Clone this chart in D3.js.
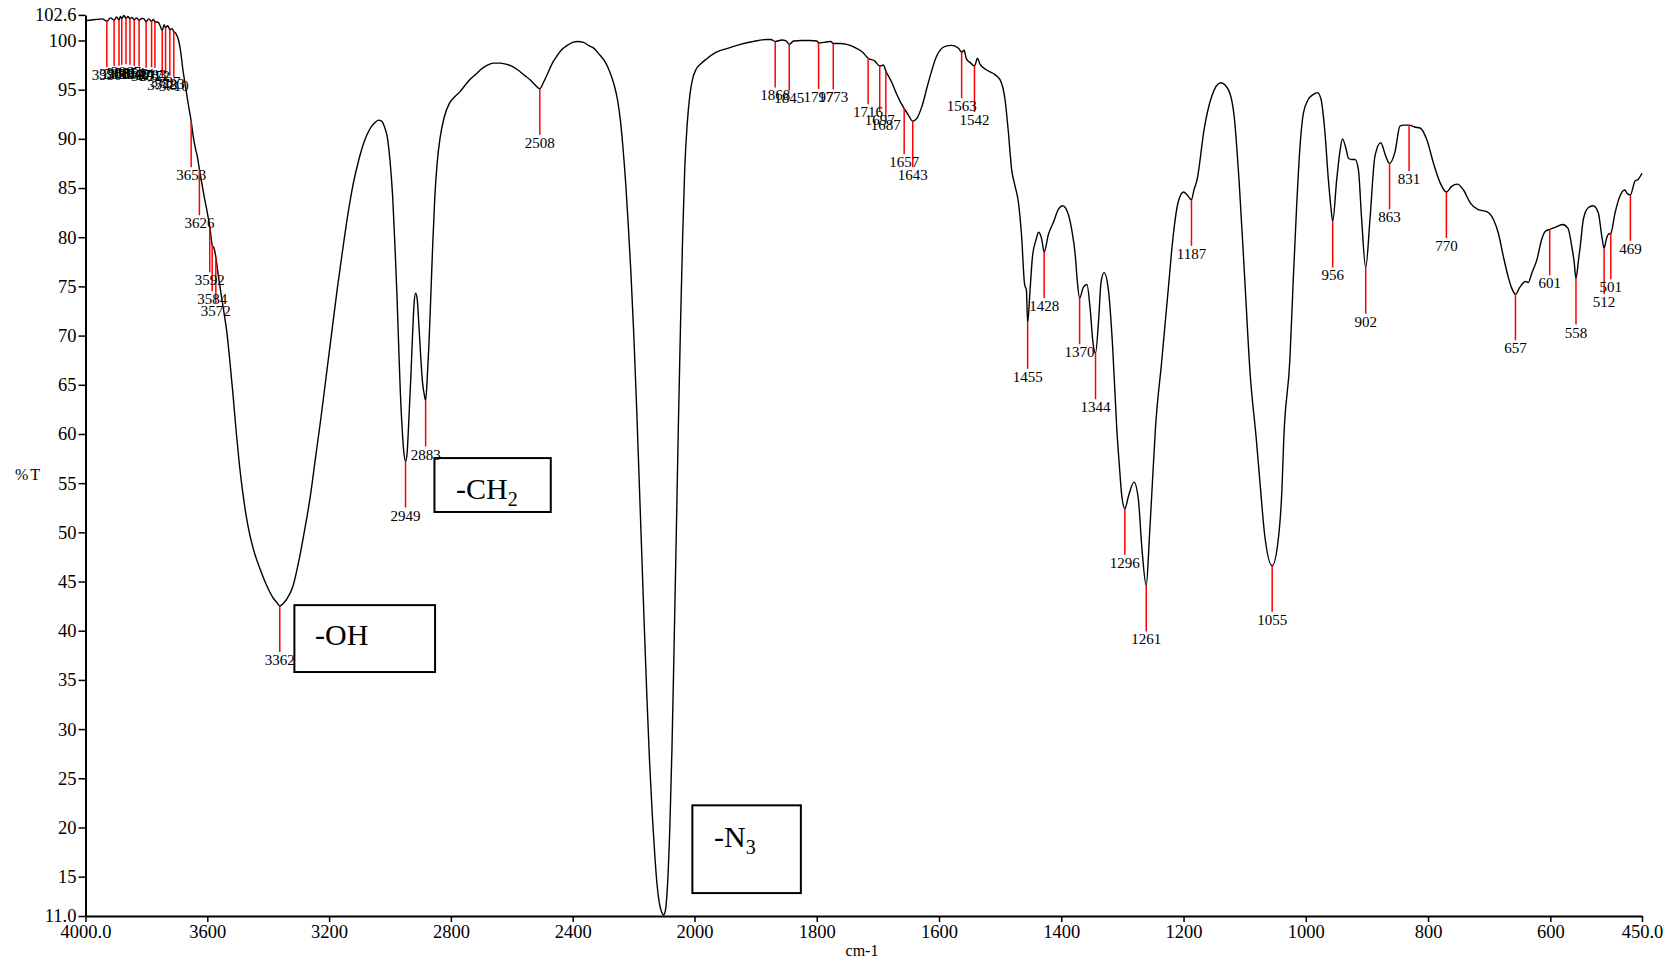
<!DOCTYPE html>
<html>
<head>
<meta charset="utf-8">
<script src="https://cdn.jsdelivr.net/npm/d3@7"></script>
<style>
  body { margin: 0; background: #fff; }
  svg { display: block; }
  text { font-family: "Liberation Serif", "Times New Roman", serif; fill: #000; }
</style>
</head>
<body>
<svg id="chart" width="1678" height="963"></svg>
<script>
// FT-IR spectrum: [wavenumber (cm-1), transmittance (%T)]
const spectrum = [
  [4000,102.0],[3990,102.05],[3975,102.1],[3960,102.15],[3945,102.2],[3930,101.95],[3918,102.3],
  [3906,102.05],[3898,102.4],[3890,102.1],[3885,102.45],[3881,102.2],[3874,102.55],[3867,102.25],
  [3860,102.45],[3854,102.2],[3847,102.35],[3840,102.1],[3832,102.3],[3824,102.05],[3815,102.25],
  [3808,102.2],[3801,101.9],[3792,102.2],[3783,101.95],[3777,102.15],[3772,101.9],[3762,101.85],
  [3755,101.5],[3748,101.0],[3742,101.6],[3737,101.3],[3730,101.5],[3723,101.1],[3716,101.2],
  [3710,100.9],[3703,100.7],[3695,100.1],[3688,99.0],[3680,97.0],[3673,95.6],[3665,94.0],
  [3659,92.9],[3653,91.8],[3646,90.2],[3638,88.9],[3632,88.1],[3626,86.9],[3618,85.5],[3610,84.1],
  [3603,83.0],[3597,82.0],[3592,81.1],[3588,80.1],[3584,79.2],[3578,78.9],[3572,78.0],[3566,76.6],
  [3556,74.5],[3545,72.3],[3536,70.4],[3525,67.1],[3515,63.8],[3505,60.2],[3495,57.0],[3485,54.4],
  [3473,51.8],[3460,49.7],[3445,47.9],[3427,46.3],[3405,44.6],[3383,43.3],[3370,42.8],[3362,42.5],
  [3350,42.8],[3339,43.2],[3318,44.6],[3298,47.3],[3280,50.3],[3262,53.6],[3245,57.5],[3227,61.6],
  [3209,66.0],[3191,70.4],[3173,74.8],[3156,78.6],[3138,82.4],[3121,85.4],[3103,87.8],[3086,89.6],
  [3068,90.9],[3051,91.6],[3038,91.9],[3028,91.8],[3018,91.2],[3009,90.2],[3000,87.8],[2991,84.0],
  [2983,78.6],[2977,74.0],[2971,68.5],[2966,64.2],[2960,60.5],[2955,58.3],[2949,57.2],[2944,58.0],
  [2938,61.5],[2932,65.5],[2926,70.0],[2921,73.2],[2916,74.3],[2911,73.8],[2905,71.0],[2899,67.8],
  [2893,65.2],[2888,64.1],[2883,63.4],[2878,65.5],[2872,69.2],[2866,74.0],[2860,79.0],[2853,84.0],
  [2845,87.6],[2835,90.2],[2822,92.2],[2805,93.6],[2790,94.2],[2770,94.8],[2752,95.5],[2735,96.1],
  [2717,96.6],[2700,97.1],[2680,97.5],[2660,97.7],[2640,97.7],[2620,97.6],[2600,97.4],[2580,97.0],
  [2560,96.5],[2540,96.0],[2524,95.5],[2508,95.1],[2495,95.8],[2480,96.8],[2465,97.8],[2450,98.5],
  [2435,99.1],[2418,99.5],[2400,99.8],[2383,99.9],[2365,99.8],[2348,99.5],[2330,99.2],[2313,98.6],
  [2295,97.9],[2278,96.8],[2265,95.6],[2253,94.0],[2243,91.8],[2236,89.5],[2226,85.5],[2218,81.5],
  [2209,76.5],[2200,70.5],[2191,63.5],[2183,56.5],[2174,48.5],[2165,40.5],[2156,33.0],[2148,27.0],
  [2139,21.5],[2130,17.0],[2123,14.2],[2116,12.4],[2108,11.4],[2102,11.1],[2096,11.5],[2088,14.5],
  [2081,20.0],[2074,28.0],[2067,38.5],[2060,49.5],[2053,60.8],[2046,71.0],[2039,80.0],[2032,87.0],
  [2024,91.5],[2015,94.5],[2007,96.0],[1998,97.0],[1990,97.6],[1981,98.1],[1965,98.8],[1946,99.2],
  [1925,99.6],[1904,99.9],[1882,100.1],[1875,100.1],[1868,99.9],[1857,100.05],[1850,99.95],
  [1845,99.6],[1838,99.95],[1825,100.0],[1811,100.0],[1800,99.95],[1797,99.75],[1784,99.85],
  [1777,99.9],[1773,99.7],[1762,99.7],[1751,99.6],[1735,99.2],[1725,98.8],[1716,98.2],[1705,97.9],
  [1697,97.4],[1691,97.5],[1687,96.9],[1677,95.7],[1669,94.5],[1661,93.5],[1657,93.1],[1650,92.4],
  [1643,91.8],[1636,92.1],[1628,93.3],[1618,95.6],[1604,98.4],[1590,99.4],[1579,99.5],[1568,99.2],
  [1563,98.8],[1559,99.0],[1555,98.1],[1548,97.7],[1542,97.4],[1537,98.2],[1533,97.6],[1522,97.0],
  [1508,96.5],[1500,96.0],[1492,94.0],[1487,91.0],[1481,86.8],[1476,85.3],[1470,83.5],[1465,80.2],
  [1460,75.2],[1457,74.6],[1455,71.3],[1451,74.7],[1447,78.1],[1441,79.8],[1437,80.5],[1432,79.8],
  [1428,78.5],[1421,80.3],[1413,81.5],[1405,82.8],[1398,83.2],[1390,82.6],[1383,80.8],[1377,78.1],
  [1374,75.7],[1370,73.8],[1364,74.9],[1358,75.2],[1353,72.9],[1348,69.2],[1344,68.2],[1339,71.5],
  [1335,75.4],[1330,76.4],[1323,74.7],[1316,68.9],[1309,60.3],[1305,56.8],[1301,53.7],[1296,52.4],
  [1290,53.7],[1281,55.1],[1274,53.4],[1268,48.3],[1261,44.6],[1256,49.3],[1250,56.1],[1246,60.5],
  [1236,67.2],[1225,74.7],[1217,80.1],[1209,83.5],[1200,84.6],[1194,84.3],[1187,83.8],[1183,84.8],
  [1178,85.8],[1166,91.1],[1154,94.3],[1139,95.7],[1126,94.9],[1117,92.2],[1109,85.6],[1100,75.9],
  [1091,66.1],[1081,59.5],[1075,55.1],[1067,49.6],[1055,46.6],[1045,49.3],[1039,54.4],[1036,59.5],
  [1026,67.6],[1020.5,75.7],[1015,83.1],[1009.5,89.2],[1004,92.6],[996,94.0],[988,94.5],[981,94.7],
  [975,94.0],[969,90.9],[963,85.8],[959,83.1],[956,81.6],[949.5,85.8],[944,88.8],[940,90.0],
  [935,89.2],[930,88.0],[925,87.9],[919.5,87.9],[914,86.9],[908.6,81.8],[902,76.9],[895,81.8],
  [887,88.2],[877.5,89.6],[869,88.2],[863,87.5],[854,88.7],[846,91.3],[840,91.4],[831,91.4],
  [822,91.2],[813,91.1],[802,89.9],[791,87.5],[780,85.5],[770,84.6],[761,85.2],[752,85.4],
  [742,84.8],[731,83.5],[718,82.8],[704,82.6],[693,81.8],[685,80.4],[677,78.1],[669,76.0],
  [663,74.8],[657,74.2],[650,74.9],[641,75.5],[636,75.4],[630,76.4],[622,77.7],[614,79.8],
  [608,80.6],[601,80.8],[592,81.0],[580,81.3],[571,80.9],[565,79.1],[561,77.5],[558,75.8],
  [554,77.6],[551,79.1],[546,81.8],[538,83.0],[530,83.2],[521.5,82.5],[516,80.2],[512,78.9],
  [508,79.9],[505,80.3],[501,80.4],[494,82.5],[486,84.2],[478,84.8],[475,84.5],[469,84.3],
  [461.5,85.7],[456,85.9],[450,86.5]
];

// Peak positions picked on the spectrum (cm-1)
const peakLabels = [
  3930,3906,3890,3881,3867,3854,3840,3824,3801,3783,3772,3748,3737,3723,3710,
  3653,3626,3592,3584,3572,3362,2949,2883,2508,
  1868,1845,1797,1773,1716,1697,1687,1657,1643,1563,1542,
  1455,1428,1370,1344,1296,1261,1187,1055,956,902,863,831,770,657,601,558,512,501,469
];

// Axis ticks
const xTicks = [4000,3600,3200,2800,2400,2000,1800,1600,1400,1200,1000,800,600,450];
const xTickLabels = ["4000.0","3600","3200","2800","2400","2000","1800","1600","1400","1200","1000","800","600","450.0"];
const yTicks = [102.6,100,95,90,85,80,75,70,65,60,55,50,45,40,35,30,25,20,15,11];
const yTickLabels = ["102.6","100","95","90","85","80","75","70","65","60","55","50","45","40","35","30","25","20","15","11.0"];

// Functional-group annotations (box corners in cm-1 / %T)
const groupNames = ["-OH", "-CH", "-N"];
const groupSubs = ["", "2", "3"];
const groupBoxes = [
  { x0: 3314, x1: 2852, t0: 42.6, t1: 35.8, tx: 3246, tt: 38.5 },
  { x0: 2854, x1: 2472, t0: 57.55, t1: 52.07, tx: 2783, tt: 53.4 },
  { x0: 2007, x1: 1826, t0: 22.25, t1: 13.33, tx: 1968, tt: 18.0 }
];

const svg = d3.select("#chart");

// The abscissa changes scale at 2000 cm-1 (expanded low-wavenumber region)
const x = d3.scaleLinear().domain([4000, 2000, 450]).range([85.5, 694.5, 1642]);
const y = d3.scaleLinear().domain([11, 102.6]).range([916, 14.9]);

// Axes
const yAxis = d3.axisLeft(y)
  .tickValues(yTicks)
  .tickFormat((d, i) => yTickLabels[i])
  .tickSize(7).tickSizeOuter(0).tickPadding(2);
const gy = svg.append("g").attr("transform", `translate(${x(4000)},0)`).call(yAxis);

const xAxis = d3.axisBottom(x)
  .tickValues(xTicks)
  .tickFormat((d, i) => xTickLabels[i])
  .tickSize(6).tickSizeOuter(0).tickPadding(3);
const gx = svg.append("g").attr("transform", `translate(0,${y(11)})`).call(xAxis);

[gx, gy].forEach(g => {
  g.selectAll("path.domain").attr("stroke", "#000").attr("stroke-width", 2);
  g.selectAll(".tick line").attr("stroke", "#000").attr("stroke-width", 1.5);
  g.selectAll(".tick text").attr("font-size", 18.5).attr("font-family", '"Liberation Serif", serif').attr("fill", "#000");
});

svg.append("text").attr("x", 862).attr("y", 956).attr("text-anchor", "middle")
  .attr("font-size", 16).text("cm-1");
svg.append("text").attr("x", 15).attr("y", 480)
  .attr("font-size", 16).attr("letter-spacing", 2).text("%T");

// Spectrum trace
const line = d3.line()
  .x(d => x(d[0]))
  .y(d => y(d[1]))
  .curve(d3.curveMonotoneX);

svg.append("path")
  .datum(spectrum)
  .attr("d", line)
  .attr("fill", "none")
  .attr("stroke", "#000")
  .attr("stroke-width", 1.4)
  .attr("stroke-linejoin", "round");

// Peak markers: drop line from the trace and the wavenumber below it
const lookup = new Map(spectrum.map(d => [d[0], d[1]]));
const peaks = peakLabels.map(w => ({ w, t: lookup.get(w) }));

const gp = svg.append("g");
gp.selectAll("line").data(peaks).join("line")
  .attr("x1", d => x(d.w)).attr("x2", d => x(d.w))
  .attr("y1", d => y(d.t)).attr("y2", d => y(d.t) + 46)
  .attr("stroke", "#ff0000").attr("stroke-width", 1.5);
gp.selectAll("text").data(peaks).join("text")
  .attr("x", d => x(d.w)).attr("y", d => y(d.t) + 59)
  .attr("text-anchor", "middle").attr("font-size", 15)
  .text(d => d.w);

// Annotation boxes
const ga = svg.append("g");
groupBoxes.forEach((b, i) => {
  ga.append("rect")
    .attr("x", x(b.x0)).attr("y", y(b.t0))
    .attr("width", x(b.x1) - x(b.x0)).attr("height", y(b.t1) - y(b.t0))
    .attr("fill", "none").attr("stroke", "#000").attr("stroke-width", 2);
  const t = ga.append("text").attr("x", x(b.tx)).attr("y", y(b.tt)).attr("font-size", 30);
  t.append("tspan").text(groupNames[i]);
  if (groupSubs[i]) {
    t.append("tspan").attr("font-size", 20).attr("dy", 7).text(groupSubs[i]);
  }
});
</script>
</body>
</html>
